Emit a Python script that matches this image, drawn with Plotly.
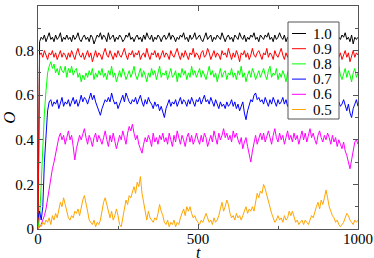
import plotly.graph_objects as go

STEP = 5  # sampling interval in t

labels = ["1.0", "0.9", "0.8", "0.7", "0.6", "0.5"]
colors = ["#000000", "#ff0000", "#00ff00", "#0000ff", "#ff00ff", "#ffa500"]

o_10 = [
    0.00, 0.84, 0.86, 0.85, 0.87, 0.84, 0.86, 0.88, 0.85, 0.86, 0.84, 0.87, 0.85, 0.86, 0.88, 0.84, 0.86, 0.85, 0.87, 0.85,
    0.86, 0.84, 0.87, 0.85, 0.86, 0.88, 0.85, 0.84, 0.86, 0.87, 0.85, 0.86, 0.84, 0.87, 0.86, 0.83, 0.85, 0.87, 0.86, 0.88,
    0.85, 0.87, 0.86, 0.84, 0.88, 0.85, 0.86, 0.87, 0.84, 0.86, 0.85, 0.87, 0.86, 0.84, 0.85, 0.87, 0.86, 0.88, 0.85, 0.86,
    0.84, 0.86, 0.87, 0.85, 0.86, 0.84, 0.87, 0.85, 0.88, 0.86, 0.85, 0.87, 0.84, 0.86, 0.85, 0.87, 0.86, 0.84, 0.86, 0.87,
    0.85, 0.86, 0.88, 0.85, 0.87, 0.86, 0.84, 0.86, 0.85, 0.87, 0.86, 0.88, 0.85, 0.86, 0.84, 0.87, 0.85, 0.86, 0.88, 0.85,
    0.86, 0.87, 0.85, 0.84, 0.86, 0.88, 0.85, 0.86, 0.87, 0.84, 0.86, 0.85, 0.87, 0.86, 0.85, 0.88, 0.86, 0.84, 0.86, 0.87,
    0.85, 0.86, 0.84, 0.87, 0.86, 0.85, 0.88, 0.86, 0.85, 0.87, 0.84, 0.86, 0.85, 0.87, 0.86, 0.88, 0.85, 0.86, 0.84, 0.87,
    0.86, 0.85, 0.87, 0.86, 0.88, 0.85, 0.86, 0.84, 0.87, 0.85, 0.86, 0.88, 0.86, 0.85, 0.87, 0.84, 0.86, 0.85, 0.87, 0.86,
    0.85, 0.87, 0.86, 0.88, 0.85, 0.86, 0.84, 0.87, 0.86, 0.85, 0.87, 0.86, 0.84, 0.86, 0.88, 0.85, 0.86, 0.87, 0.85, 0.86,
    0.87, 0.85, 0.86, 0.88, 0.86, 0.85, 0.87, 0.84, 0.86, 0.85, 0.87, 0.86, 0.88, 0.85, 0.86, 0.84, 0.87, 0.83, 0.86, 0.85,
    0.86,
]

o_09 = [
    0.00, 0.78, 0.79, 0.77, 0.80, 0.78, 0.76, 0.79, 0.78, 0.80, 0.77, 0.79, 0.76, 0.78, 0.80, 0.77, 0.79, 0.78, 0.76, 0.79,
    0.77, 0.80, 0.78, 0.76, 0.79, 0.81, 0.78, 0.77, 0.79, 0.76, 0.78, 0.80, 0.77, 0.79, 0.75, 0.78, 0.80, 0.77, 0.79, 0.78,
    0.76, 0.79, 0.81, 0.78, 0.77, 0.80, 0.78, 0.76, 0.79, 0.77, 0.80, 0.78, 0.77, 0.79, 0.81, 0.78, 0.76, 0.79, 0.78, 0.80,
    0.77, 0.79, 0.78, 0.80, 0.76, 0.78, 0.79, 0.77, 0.81, 0.78, 0.76, 0.79, 0.78, 0.80, 0.77, 0.79, 0.76, 0.78, 0.80, 0.77,
    0.79, 0.78, 0.76, 0.80, 0.78, 0.77, 0.79, 0.81, 0.78, 0.76, 0.79, 0.77, 0.80, 0.78, 0.76, 0.79, 0.78, 0.81, 0.77, 0.79,
    0.78, 0.76, 0.79, 0.80, 0.77, 0.78, 0.81, 0.79, 0.76, 0.78, 0.80, 0.77, 0.79, 0.78, 0.76, 0.80, 0.78, 0.79, 0.77, 0.81,
    0.78, 0.76, 0.79, 0.77, 0.80, 0.78, 0.75, 0.79, 0.78, 0.80, 0.77, 0.79, 0.76, 0.78, 0.81, 0.78, 0.77, 0.79, 0.80, 0.78,
    0.76, 0.79, 0.78, 0.81, 0.77, 0.79, 0.78, 0.76, 0.80, 0.78, 0.77, 0.79, 0.81, 0.78, 0.76, 0.79, 0.77, 0.80, 0.78, 0.79,
    0.77, 0.80, 0.78, 0.76, 0.79, 0.78, 0.81, 0.77, 0.79, 0.78, 0.76, 0.80, 0.78, 0.79, 0.77, 0.81, 0.78, 0.76, 0.79, 0.78,
    0.80, 0.77, 0.79, 0.78, 0.76, 0.79, 0.81, 0.78, 0.77, 0.79, 0.76, 0.78, 0.80, 0.77, 0.79, 0.75, 0.78, 0.80, 0.77, 0.79,
    0.78,
]

o_08 = [
    0.00, 0.05, 0.20, 0.38, 0.52, 0.62, 0.70, 0.73, 0.75, 0.72, 0.74, 0.70, 0.72, 0.69, 0.73, 0.71, 0.70, 0.73, 0.68, 0.72,
    0.70, 0.73, 0.69, 0.71, 0.72, 0.68, 0.70, 0.66, 0.69, 0.67, 0.70, 0.68, 0.71, 0.69, 0.72, 0.67, 0.70, 0.68, 0.71, 0.69,
    0.72, 0.68, 0.70, 0.67, 0.71, 0.69, 0.73, 0.68, 0.70, 0.66, 0.69, 0.71, 0.68, 0.72, 0.70, 0.67, 0.69, 0.71, 0.68, 0.70,
    0.73, 0.69, 0.67, 0.70, 0.72, 0.68, 0.71, 0.69, 0.66, 0.70, 0.68, 0.72, 0.69, 0.71, 0.67, 0.70, 0.73, 0.68, 0.70, 0.69,
    0.71, 0.67, 0.70, 0.72, 0.68, 0.69, 0.71, 0.66, 0.70, 0.68, 0.72, 0.69, 0.71, 0.67, 0.70, 0.68, 0.73, 0.69, 0.71, 0.68,
    0.70, 0.72, 0.68, 0.71, 0.69, 0.67, 0.70, 0.73, 0.69, 0.71, 0.68, 0.70, 0.66, 0.69, 0.72, 0.68, 0.70, 0.71, 0.67, 0.70,
    0.69, 0.72, 0.68, 0.70, 0.67, 0.71, 0.69, 0.73, 0.68, 0.70, 0.66, 0.69, 0.71, 0.68, 0.72, 0.70, 0.67, 0.69, 0.71, 0.68,
    0.70, 0.72, 0.69, 0.67, 0.71, 0.73, 0.68, 0.70, 0.69, 0.72, 0.67, 0.70, 0.68, 0.71, 0.69, 0.66, 0.70, 0.72, 0.68, 0.70,
    0.69, 0.71, 0.67, 0.70, 0.72, 0.68, 0.69, 0.71, 0.66, 0.70, 0.68, 0.72, 0.69, 0.71, 0.67, 0.70, 0.68, 0.73, 0.69, 0.71,
    0.68, 0.70, 0.72, 0.67, 0.69, 0.71, 0.68, 0.70, 0.73, 0.69, 0.67, 0.70, 0.72, 0.68, 0.71, 0.69, 0.66, 0.70, 0.72, 0.68,
    0.70,
]

o_07 = [
    0.05, 0.08, 0.04, 0.10, 0.30, 0.45, 0.53, 0.57, 0.58, 0.55, 0.57, 0.56, 0.58, 0.54, 0.57, 0.59, 0.55, 0.57, 0.56, 0.58,
    0.55, 0.57, 0.59, 0.56, 0.58, 0.55, 0.57, 0.60, 0.57, 0.59, 0.58, 0.56, 0.59, 0.61, 0.58, 0.60, 0.57, 0.55, 0.53, 0.51,
    0.54, 0.56, 0.58, 0.57, 0.59, 0.57, 0.61, 0.58, 0.56, 0.57, 0.54, 0.56, 0.58, 0.60, 0.57, 0.61, 0.59, 0.57, 0.56, 0.58,
    0.57, 0.59, 0.56, 0.58, 0.60, 0.57, 0.55, 0.58, 0.56, 0.59, 0.57, 0.56, 0.54, 0.57, 0.55, 0.56, 0.53, 0.55, 0.52, 0.50,
    0.54, 0.56, 0.58, 0.55, 0.57, 0.56, 0.58, 0.55, 0.57, 0.59, 0.56, 0.58, 0.57, 0.55, 0.58, 0.56, 0.59, 0.57, 0.55, 0.58,
    0.57, 0.59, 0.56, 0.58, 0.60, 0.57, 0.58, 0.56, 0.59, 0.57, 0.55, 0.58, 0.56, 0.54, 0.57, 0.55, 0.56, 0.54, 0.57, 0.55,
    0.56, 0.58, 0.55, 0.57, 0.54, 0.56, 0.53, 0.55, 0.57, 0.52, 0.49, 0.53, 0.56, 0.58, 0.57, 0.60, 0.61, 0.58, 0.59, 0.57,
    0.58, 0.56, 0.59, 0.57, 0.55, 0.58, 0.56, 0.59, 0.57, 0.55, 0.58, 0.56, 0.57, 0.59, 0.56, 0.58, 0.55, 0.57, 0.59, 0.56,
    0.58, 0.56, 0.59, 0.57, 0.55, 0.58, 0.56, 0.57, 0.59, 0.56, 0.54, 0.57, 0.55, 0.58, 0.56, 0.57, 0.55, 0.58, 0.56, 0.57,
    0.55, 0.57, 0.56, 0.58, 0.55, 0.57, 0.56, 0.54, 0.57, 0.55, 0.56, 0.58, 0.55, 0.53, 0.56, 0.52, 0.50, 0.54, 0.56, 0.58,
    0.55,
]

o_06 = [
    0.00, 0.01, 0.02, 0.04, 0.06, 0.09, 0.14, 0.19, 0.23, 0.27, 0.30, 0.34, 0.37, 0.41, 0.43, 0.40, 0.42, 0.38, 0.41, 0.44,
    0.40, 0.42, 0.37, 0.31, 0.36, 0.39, 0.42, 0.40, 0.43, 0.45, 0.41, 0.38, 0.42, 0.40, 0.37, 0.41, 0.43, 0.39, 0.42, 0.40,
    0.38, 0.41, 0.44, 0.40, 0.37, 0.42, 0.39, 0.43, 0.40, 0.36, 0.39, 0.42, 0.40, 0.44, 0.41, 0.38, 0.43, 0.46, 0.44, 0.47,
    0.43, 0.40, 0.42, 0.38, 0.36, 0.34, 0.38, 0.41, 0.39, 0.42, 0.40, 0.37, 0.43, 0.39, 0.41, 0.38, 0.42, 0.40, 0.43, 0.39,
    0.41, 0.38, 0.43, 0.40, 0.37, 0.42, 0.39, 0.44, 0.41, 0.38, 0.42, 0.40, 0.37, 0.41, 0.43, 0.39, 0.42, 0.38, 0.40, 0.43,
    0.40, 0.38, 0.42, 0.39, 0.43, 0.41, 0.37, 0.40, 0.42, 0.39, 0.44, 0.41, 0.38, 0.43, 0.40, 0.42, 0.45, 0.41, 0.43, 0.40,
    0.42, 0.39, 0.44, 0.41, 0.43, 0.40, 0.38, 0.41, 0.36, 0.39, 0.41, 0.37, 0.34, 0.30, 0.35, 0.39, 0.42, 0.38, 0.41, 0.43,
    0.40, 0.43, 0.39, 0.42, 0.44, 0.41, 0.38, 0.42, 0.45, 0.41, 0.39, 0.43, 0.40, 0.42, 0.38, 0.41, 0.44, 0.40, 0.42, 0.39,
    0.43, 0.40, 0.42, 0.38, 0.41, 0.44, 0.40, 0.43, 0.39, 0.42, 0.45, 0.41, 0.43, 0.40, 0.38, 0.42, 0.44, 0.41, 0.39, 0.42,
    0.40, 0.43, 0.41, 0.38, 0.42, 0.39, 0.41, 0.37, 0.40, 0.38, 0.36, 0.39, 0.35, 0.33, 0.30, 0.27, 0.31, 0.35, 0.39, 0.40,
    0.38,
]

o_05 = [
    0.00, 0.02, 0.01, 0.03, 0.02, 0.04, 0.03, 0.05, 0.02, 0.06, 0.04, 0.07, 0.05, 0.08, 0.12, 0.10, 0.14, 0.11, 0.08, 0.05,
    0.04, 0.06, 0.05, 0.08, 0.07, 0.09, 0.06, 0.10, 0.13, 0.15, 0.12, 0.08, 0.04, 0.03, 0.02, 0.04, 0.01, 0.03, 0.02, 0.04,
    0.08, 0.12, 0.14, 0.11, 0.07, 0.05, 0.08, 0.04, 0.06, 0.09, 0.06, 0.02, 0.01, 0.05, 0.09, 0.13, 0.11, 0.15, 0.14, 0.17,
    0.19, 0.16, 0.21, 0.19, 0.235, 0.16, 0.12, 0.07, 0.04, 0.08, 0.05, 0.04, 0.03, 0.05, 0.04, 0.07, 0.11, 0.08, 0.06, 0.03,
    0.02, 0.04, 0.01, 0.03, 0.02, 0.04, 0.01, 0.03, 0.02, 0.05, 0.07, 0.09, 0.06, 0.10, 0.08, 0.10, 0.07, 0.05, 0.06, 0.04,
    0.03, 0.02, 0.04, 0.03, 0.05, 0.07, 0.05, 0.03, 0.04, 0.02, 0.05, 0.03, 0.04, 0.06, 0.09, 0.12, 0.08, 0.10, 0.13, 0.11,
    0.07, 0.05, 0.06, 0.04, 0.07, 0.05, 0.06, 0.04, 0.06, 0.08, 0.10, 0.07, 0.09, 0.08, 0.10, 0.08, 0.12, 0.16, 0.14, 0.17,
    0.16, 0.20, 0.18, 0.15, 0.12, 0.10, 0.07, 0.05, 0.03, 0.04, 0.06, 0.04, 0.05, 0.03, 0.06, 0.04, 0.05, 0.08, 0.06, 0.08,
    0.05, 0.03, 0.04, 0.02, 0.03, 0.04, 0.02, 0.04, 0.03, 0.02, 0.04, 0.06, 0.05, 0.08, 0.10, 0.12, 0.09, 0.13, 0.11, 0.14,
    0.175, 0.14, 0.10, 0.08, 0.06, 0.05, 0.03, 0.04, 0.02, 0.01, 0.02, 0.03, 0.05, 0.07, 0.06, 0.04, 0.03, 0.02, 0.04, 0.03,
    0.04,
]

series = [o_10, o_09, o_08, o_07, o_06, o_05]

x_tick_vals = [0, 500, 1000]
x_tick_text = ["0", "500", "1000"]
y_tick_vals = [0, 0.2, 0.4, 0.6, 0.8, 1.0]
y_tick_text = ["0", "0.2", "0.4", "0.6", "0.8", "1"]

FONT = "Liberation Serif, Times New Roman, Times, serif"
FRAME = "#555555"

# plot-area geometry (pixels)
W, H = 374, 258
ML, MR, MT, MB = 38, 16, 6, 29
PW, PH = W - ML - MR, H - MT - MB


def px2paper_x(px):
    return (px - ML) / PW


def px2paper_y(py):
    return (H - MB - py) / PH


fig = go.Figure()
for name, col, vals in zip(labels, colors, series):
    t = [STEP * i for i in range(len(vals))]
    fig.add_trace(go.Scatter(x=t, y=vals, mode="lines", name=name,
                             line=dict(color=col, width=1), showlegend=False))

# compact boxed legend (as in the original xmgrace-style figure)
LEG_L, LEG_R, LEG_T, LEG_B = 288, 339, 22, 119
ROW0, ROW_STEP = 33.5, 15.2
shapes = [dict(type="rect", xref="paper", yref="paper",
               x0=px2paper_x(LEG_L), x1=px2paper_x(LEG_R),
               y0=px2paper_y(LEG_B), y1=px2paper_y(LEG_T),
               line=dict(color=FRAME, width=1), fillcolor="white", layer="above")]
annotations = []
for i, (name, col) in enumerate(zip(labels, colors)):
    yc = ROW0 + i * ROW_STEP
    shapes.append(dict(type="line", xref="paper", yref="paper",
                       x0=px2paper_x(292), x1=px2paper_x(306),
                       y0=px2paper_y(yc), y1=px2paper_y(yc),
                       line=dict(color=col, width=1), layer="above"))
    annotations.append(dict(text=name, xref="paper", yref="paper",
                            x=px2paper_x(312), y=px2paper_y(yc),
                            xanchor="left", yanchor="middle", showarrow=False,
                            borderpad=0,
                            font=dict(family=FONT, size=15, color="#000000")))

# x-axis title near the bottom edge of the figure
annotations.append(dict(text="<i>t</i>", xref="paper", yref="paper",
                        x=0.5, y=px2paper_y(H), xanchor="center", yanchor="bottom",
                        yshift=-4, showarrow=False, borderpad=0,
                        font=dict(family=FONT, size=16, color="#000000")))

axis_common = dict(
    showline=True, linecolor=FRAME, linewidth=1, mirror="ticks",
    ticks="inside", ticklen=5, tickcolor=FRAME, tickwidth=1,
    showgrid=False, zeroline=False, automargin=False,
    tickfont=dict(family=FONT, size=15, color="#000000"),
)

fig.update_layout(
    width=W, height=H,
    margin=dict(l=ML, r=MR, t=MT, b=MB),
    paper_bgcolor="white", plot_bgcolor="white",
    font=dict(family=FONT, color="#000000"),
    xaxis=dict(range=[0, 1000], tickvals=x_tick_vals, ticktext=x_tick_text,
               minor=dict(tickvals=[250, 750], ticks="inside", ticklen=3,
                          tickcolor=FRAME),
               ticklabelstandoff=-4,
               **axis_common),
    yaxis=dict(range=[0, 1], tickvals=y_tick_vals, ticktext=y_tick_text,
               minor=dict(tickvals=[0.1, 0.3, 0.5, 0.7, 0.9], ticks="inside",
                          ticklen=3, tickcolor=FRAME),
               title=dict(text="<i>O</i>", font=dict(family=FONT, size=17), standoff=7),
               **axis_common),
    shapes=shapes,
    annotations=annotations,
    showlegend=False,
)

fig.write_html("out.html", config={"displayModeBar": False},
               post_script="document.body.style.margin='0';document.body.style.padding='0';")
